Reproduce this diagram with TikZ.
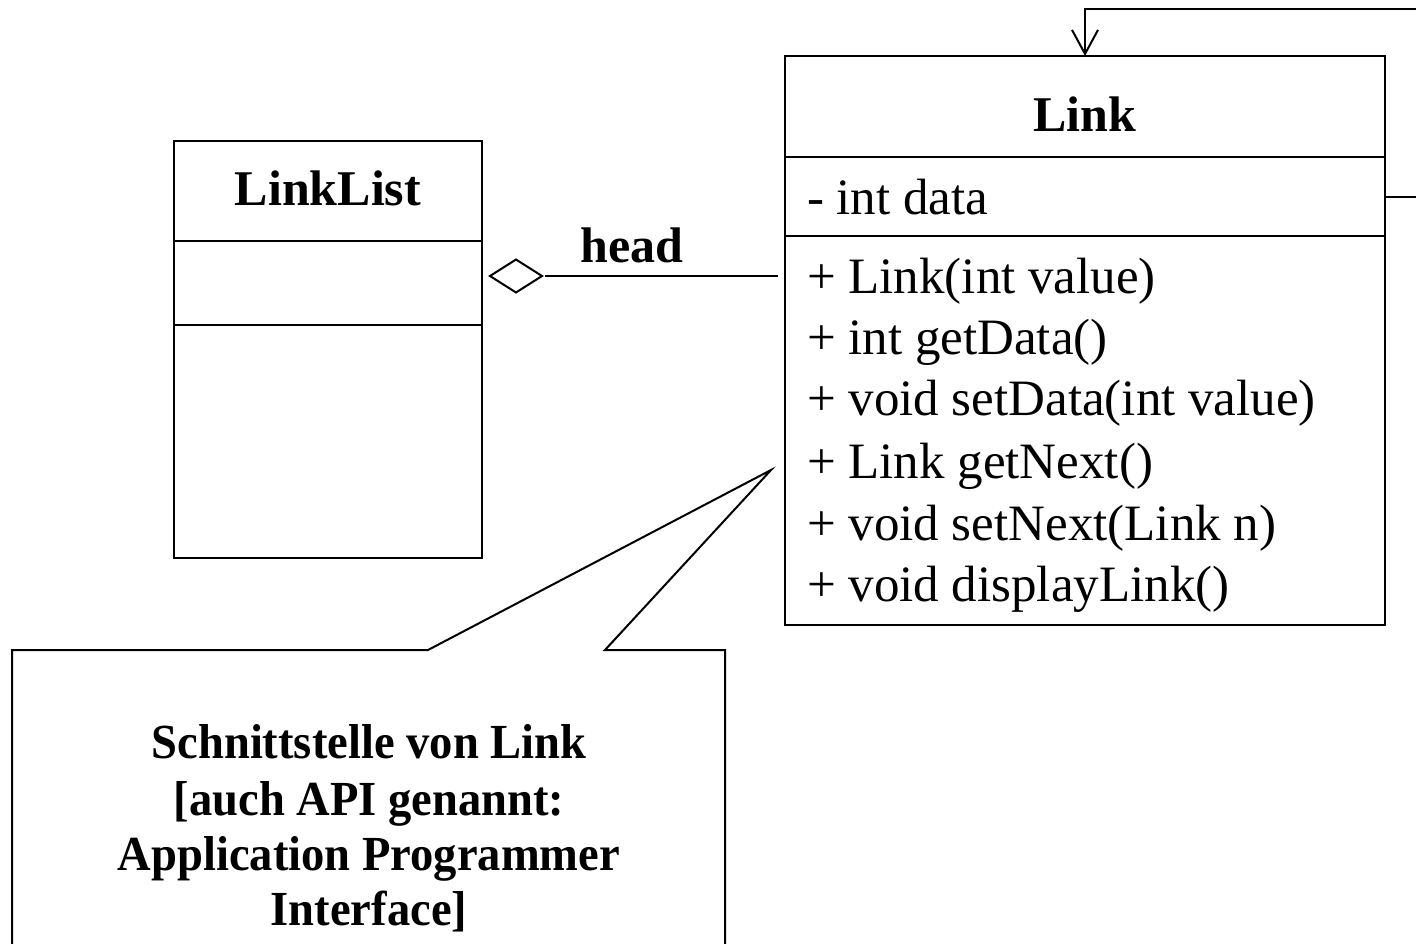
\documentclass[tikz,border=0pt]{standalone}
\usepackage{fontspec}
\setmainfont{Liberation Serif}
\newfontfamily\notefont[FakeStretch=0.95]{Liberation Serif}
\usetikzlibrary{shapes.geometric,arrows.meta}

\begin{document}
\begin{tikzpicture}[x=1pt,y=-1pt,line width=2pt,
  class box/.style={draw,rectangle,anchor=north west,inner sep=0pt,outer sep=0pt,minimum width=#1},
  member/.style={anchor=base west,inner sep=0pt,font=\fontsize{51}{61}\selectfont},
  title/.style={anchor=base,inner sep=0pt,font=\fontsize{50}{60}\selectfont\bfseries},
  note line/.style={anchor=base,inner sep=0pt,font=\notefont\fontsize{49}{56}\selectfont\bfseries},
  agg node/.style={diamond,draw,inner sep=0pt,outer sep=0pt,minimum width=52pt,minimum height=33pt}]

  \useasboundingbox (0,0) rectangle (1416,943);

  % class Link
  \node[class box=600pt,minimum height=101pt] (linkname) at (785,56) {};
  \node[class box=600pt,minimum height=79pt] (linkattr) at (linkname.south west) {};
  \node[class box=600pt,minimum height=389pt] (linkops) at (linkattr.south west) {};
  \node[title] (linktitle) at (1085,131) {Link};
  \node[member] (data) at (806,214) {- int data};
  \node[member] (op1) at (806,293) {+ Link(int value)};
  \node[member] (op2) at (806,354) {+ int getData()};
  \node[member] (op3) at (806,415) {+ void setData(int value)};
  \node[member] (op4) at (806,478) {+ Link getNext()};
  \node[member] (op5) at (806,540) {+ void setNext(Link n)};
  \node[member] (op6) at (806,601) {+ void displayLink()};

  % class LinkList
  \node[class box=308pt,minimum height=100pt] (listname) at (174,141) {};
  \node[class box=308pt,minimum height=84pt] (listattr) at (listname.south west) {};
  \node[class box=308pt,minimum height=233pt] (listops) at (listattr.south west) {};
  \node[title] (listtitle) at (328,205) {LinkList};

  % aggregation head
  \node[agg node] (agg) at (516,276) {};
  \coordinate (headend) at (778,276);
  \draw ([xshift=3pt]agg.east) -- (headend);
  \node[title] (headlabel) at (632,262) {head};

  % self association next
  \coordinate (loopb) at (1440,9);
  \draw[-{Straight Barb[length=24pt,width=26pt]}] (linkattr.east) -| (loopb)
    -- (linkname.north |- loopb) -- (linkname.north);

  % note
  \coordinate (nbl) at (12,960);
  \coordinate (ntl) at (12,650);
  \coordinate (nga) at (428,650);
  \coordinate (tip) at (771,470);
  \coordinate (ngb) at (605,650);
  \coordinate (ntr) at (725,650);
  \coordinate (nbr) at (725,960);
  \draw (nbl) -- (ntl) -- (nga) -- (tip) -- (ngb) -- (ntr) -- (nbr);
  \node[note line] (n1) at (369,758) {Schnittstelle von Link};
  \node[note line] (n2) at (369,815) {[auch API genannt:};
  \node[note line] (n3) at (369,870) {Application Programmer};
  \node[note line] (n4) at (369,925) {Interface]};
\end{tikzpicture}
\end{document}
